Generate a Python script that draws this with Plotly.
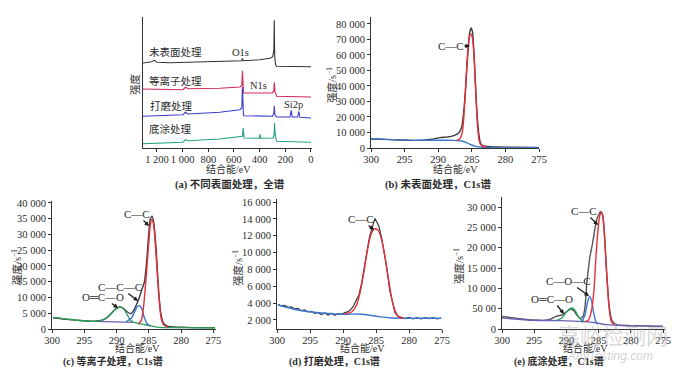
import plotly.graph_objects as go

# page body has an 8 px margin: draw on a 664x360 figure and shift all pixel positions by 8
OFF = 8
W, H = 664, 360

# ---------------- (a) survey spectra (arbitrary units) ----------------
a1_be = [1309, 1244, 1218, 1200, 1101, 971, 711, 554, 539, 534, 528, 398, 320, 299, 289, 286, 283, 276, 268, 0]
a1_int = [85.0, 86.3, 87.7, 85.7, 85.3, 85.7, 86.3, 87.3, 87.3, 89.7, 87.3, 88.3, 89.7, 91.0, 98.0, 127.7, 92.0, 83.3, 81.7, 81.3]
a2_be = [1309, 1205, 997, 979, 958, 711, 554, 539, 534, 526, 398, 299, 289, 286, 281, 268, 0]
a2_int = [59.0, 59.0, 58.3, 60.7, 59.3, 59.7, 61.0, 62.3, 77.3, 55.0, 54.7, 55.0, 58.3, 65.7, 56.7, 51.7, 51.0]
a3_be = [1309, 997, 979, 958, 711, 554, 539, 534, 526, 398, 299, 289, 286, 281, 268, 164, 154, 146, 104, 94, 86, 0]
a3_int = [31.7, 33.3, 35.7, 34.0, 35.7, 38.3, 40.0, 61.0, 32.3, 31.7, 31.7, 35.0, 42.3, 33.3, 31.0, 31.0, 37.7, 31.0, 31.0, 36.7, 30.7, 30.0]
a4_be = [1309, 997, 979, 958, 711, 554, 534, 528, 521, 403, 398, 393, 294, 286, 284, 279, 268, 0]
a4_int = [4.3, 5.7, 8.3, 7.3, 9.0, 11.7, 11.7, 20.0, 10.0, 9.7, 14.0, 9.7, 10.0, 15.0, 25.0, 13.3, 6.7, 5.7]
a_names = ["未表面处理", "等离子处理", "打磨处理", "底涂处理"]
a_xticks = [1200, 1000, 800, 600, 400, 200, 0]
a_xtext = ["1 200", "1 000", "800", "600", "400", "200", "0"]

# ---------------- (b) untreated C1s ----------------
b_raw_be = [300.0, 297.13, 293.68, 291.21, 289.72, 288.24, 287.25, 286.76, 286.46, 286.22, 285.97, 285.72,
            285.47, 285.28, 285.08, 284.88, 284.68, 284.44, 284.19, 283.94, 283.70, 283.30, 281.32, 275.0]
b_raw = [5806, 5376, 4946, 5591, 6667, 7312, 8817, 10753, 14408, 22580, 35483, 52687,
         67741, 75268, 77418, 74192, 61289, 39784, 20430, 8602, 3226, 1290, 645, 430]
b_cc_be = [287.25, 286.76, 286.41, 286.12, 285.87, 285.62, 285.38, 285.13, 284.88, 284.63, 284.39, 284.14, 283.89, 283.55, 282.81]
b_cc = [4946, 6021, 10107, 23655, 43010, 61289, 71612, 73547, 70321, 56988, 33333, 13978, 4301, 1505, 645]
b_bg_be = [300, 293.68, 287.75, 286.51, 285.77, 285.03, 284.29, 283.30, 275]
b_bg = [6021, 4946, 4946, 4516, 3441, 1935, 860, 430, 215]
b_yticks = [0, 10000, 20000, 30000, 40000, 50000, 60000, 70000, 80000]
b_ytext = ["0", "10 000", "20 000", "30 000", "40 000", "50 000", "60 000", "70 000", "80 000"]

# ---------------- (c) plasma C1s ----------------
c_raw_be = [299.84, 297.78, 295.19, 293.13, 291.83, 291.06, 290.28, 289.61, 288.99, 288.37, 287.80, 287.34, 286.93, 286.51,
            286.10, 285.68, 285.32, 285.01, 284.75, 284.50, 284.24, 283.88, 283.51, 283.15, 282.74, 282.02, 279.17, 274.78]
c_raw = [3579, 3053, 2632, 2526, 3158, 4421, 6105, 6947, 6631, 5474, 4842, 5895, 7684, 9789,
         12421, 15052, 21894, 30315, 35052, 35789, 33684, 25578, 12947, 5052, 1895, 842, 526, 421]
c_cc_be = [286.62, 286.16, 285.79, 285.37, 285.06, 284.81, 284.55, 284.29, 283.93, 283.51, 283.10, 282.69, 282.02]
c_cc = [1700, 2737, 7684, 17684, 26105, 32421, 34736, 33473, 25052, 11894, 3474, 1263, 632]
c_ccc_be = [288.48, 287.70, 287.18, 286.78, 286.42, 286.05, 285.68, 285.27, 284.86]
c_ccc = [2316, 3474, 5579, 7158, 7368, 6105, 3474, 1684, 1053]
c_oco_be = [299.84, 297.78, 295.19, 293.13, 292.61, 291.32, 290.54, 289.92, 289.25, 288.73, 288.22, 287.70, 287.18,
            286.42, 285.37, 284.34, 283.31, 281.24, 274.78]
c_oco = [3684, 3158, 2632, 2421, 2526, 3789, 5579, 6631, 6842, 5895, 4000, 2526, 2000, 1684, 1263, 842, 526, 421, 316]
c_base_be = [293.13, 287.44]
c_base = [2421, 2105]
c_yticks = [0, 5000, 10000, 15000, 20000, 25000, 30000, 35000, 40000]
c_ytext = ["0", "5 000", "10 000", "15 000", "20 000", "25 000", "30 000", "35 000", "40 000"]

# ---------------- (d) ground C1s ----------------
d_raw_be = [299.85, 299.34, 298.83, 298.33, 297.82, 297.32, 296.81, 296.30, 295.80, 295.29, 294.78, 294.28, 293.77,
            293.26, 292.76, 292.25, 291.74, 291.24, 290.73, 290.22, 289.72, 289.21, 288.80, 288.40, 287.99, 287.59,
            287.18, 286.78, 286.37, 285.97, 285.66, 285.41, 285.16, 284.90, 284.55, 284.14, 283.74, 283.33, 282.93,
            282.52, 282.12, 281.71, 281.21, 280.60, 279.99, 279.38, 278.77, 278.17, 277.56, 276.95, 276.34, 275.73, 275.13]
d_raw = [3864, 3666, 3745, 3507, 3547, 3309, 3388, 3110, 3190, 2952, 3031, 2793, 2873,
         2635, 2833, 2595, 2793, 2555, 2754, 2674, 2873, 2992, 3269, 3666, 4380, 4975,
         6363, 8028, 10130, 11915, 12787, 13501, 14057, 13660, 13105, 11717, 9932, 7949, 5569,
         3983, 2873, 2476, 2317, 2159, 2317, 2119, 2278, 2119, 2278, 2159, 2278, 2119, 2238]
d_cc_be = [289.72, 288.70, 287.94, 287.44, 286.93, 286.42, 285.92, 285.41, 285.06, 284.65, 284.14, 283.64, 283.13,
           282.62, 282.12, 281.61, 280.85]
d_cc = [2700, 2950, 3785, 5173, 7235, 9734, 11717, 12708, 12827, 12629, 11518, 9535, 6957, 4578, 3110, 2397, 2159]
d_bg_be = [299.85, 296.81, 292.76, 289.72, 287.69, 286.17, 284.65, 282.62, 280.09, 275.13]
d_bg = [3785, 3190, 2793, 2674, 2714, 2595, 2397, 2238, 2198, 2198]
d_yticks = [2000, 4000, 6000, 8000, 10000, 12000, 14000, 16000]
d_ytext = ["2 000", "4 000", "6 000", "8 000", "10 000", "12 000", "14 000", "16 000"]

# ---------------- (e) primer C1s ----------------
e_raw_be = [300.00, 297.68, 295.10, 293.56, 292.53, 291.60, 290.72, 289.95, 289.33, 288.81, 288.30, 287.78, 287.37,
            287.11, 286.86, 286.60, 286.34, 285.93, 285.52, 285.21, 284.90, 284.69, 284.38, 284.12, 283.76, 283.35,
            282.94, 282.47, 281.96, 279.12, 275.00]
e_raw = [3115, 2623, 2213, 2131, 2377, 3115, 3443, 4262, 4918, 4426, 3279, 2623, 3279,
         5574, 10902, 14590, 17869, 21148, 25247, 27296, 28362, 28900, 28150, 23900, 14000, 5500,
         2100, 1300, 984, 820, 656]
e_cc_be = [287.11, 286.60, 286.08, 285.72, 285.41, 285.10, 284.85, 284.64, 284.38, 284.12, 283.76, 283.40, 283.04, 282.63]
e_cc = [1800, 2131, 4754, 9672, 17869, 24427, 27706, 28690, 27870, 23607, 13771, 5574, 1885, 1066]
e_coc_be = [287.63, 287.11, 286.75, 286.44, 286.13, 285.82, 285.46, 285.05]
e_coc = [1639, 3525, 6394, 8033, 7213, 4344, 1885, 1148]
e_oco_be = [291.49, 290.72, 290.05, 289.54, 289.12, 288.66, 288.14, 287.63, 287.11]
e_oco = [2131, 2705, 4098, 4918, 5164, 4590, 3115, 2131, 1803]
e_base_be = [300, 295.10, 290.98, 287.37, 285.31, 283.76, 281.19, 275.0]
e_base = [2705, 2131, 2049, 1803, 1475, 1066, 820, 656]
e_yticks = [0, 5000, 10000, 15000, 20000, 25000, 30000]
e_ytext = ["0", "50 00", "10 000", "15 000", "20 000", "25 000", "30 000"]

c_ticks = [300, 295, 290, 285, 280, 275]

# ---------------- styling ----------------
FONT = "Liberation Serif, Noto Sans CJK SC, serif"
TXT = "#2b2b2b"
BLACK = "#3a3a3a"
RED = "#e2303c"
BLUE = "#3c78d0"
GREEN = "#2e9e5c"
PURPLE = "#6a60b4"


def PX(p):
    return (p - OFF) / W


def PY(p):
    return 1 - (p - OFF) / H


def xd(p0, p1):
    return [PX(p0), PX(p1)]


def yd(top, bottom):
    return [PY(bottom), PY(top)]


fig = go.Figure()


def add(x, y, color, ax, width=1.4, shape="spline"):
    fig.add_trace(go.Scatter(x=x, y=y, mode="lines", xaxis=ax[0], yaxis=ax[1],
                             line=dict(color=color, width=width, shape=shape, smoothing=0.6),
                             showlegend=False, hoverinfo="skip"))


# (a)
for be, it, col in [(a1_be, a1_int, "#333333"), (a2_be, a2_int, "#d42a55"),
                    (a3_be, a3_int, "#3d3dc8"), (a4_be, a4_int, "#1fa27e")]:
    add(be, it, col, ("x", "y"), width=1.1, shape="linear")
# (b)
add(b_raw_be, b_raw, BLACK, ("x2", "y2"))
add(b_bg_be, b_bg, BLUE, ("x2", "y2"))
add(b_cc_be, b_cc, RED, ("x2", "y2"))
# (c)
add(c_raw_be, c_raw, BLACK, ("x3", "y3"))
add(c_base_be, c_base, PURPLE, ("x3", "y3"), shape="linear")
add(c_oco_be, c_oco, GREEN, ("x3", "y3"))
add(c_ccc_be, c_ccc, BLUE, ("x3", "y3"))
add(c_cc_be, c_cc, RED, ("x3", "y3"))
# (d)
add(d_raw_be, d_raw, BLACK, ("x4", "y4"), width=1.2, shape="linear")
add(d_bg_be, d_bg, BLUE, ("x4", "y4"))
add(d_cc_be, d_cc, RED, ("x4", "y4"))
# (e)
add(e_raw_be, e_raw, "#555555", ("x5", "y5"))
add(e_base_be, e_base, PURPLE, ("x5", "y5"))
add(e_oco_be, e_oco, GREEN, ("x5", "y5"))
add(e_coc_be, e_coc, BLUE, ("x5", "y5"))
add(e_cc_be, e_cc, RED, ("x5", "y5"))

common = dict(showline=True, linecolor="#333", linewidth=1, mirror=False, showgrid=False, zeroline=False,
              ticks="outside", ticklen=3, tickcolor="#333", automargin=False,
              tickfont=dict(family=FONT, size=10.5, color=TXT))
xcommon = dict(common, ticklabelstandoff=-2)

lay = dict(width=W, height=H, margin=dict(l=0, r=0, t=0, b=0, autoexpand=False),
           paper_bgcolor="white", plot_bgcolor="white", showlegend=False)

lay["xaxis"] = dict(xcommon, domain=xd(143, 312), range=[1309, -8], anchor="y",
                    tickvals=a_xticks, ticktext=a_xtext)
lay["yaxis"] = dict(common, domain=yd(17, 148), range=[0, 131], anchor="x",
                    showticklabels=False, ticks="")
lay["xaxis2"] = dict(xcommon, domain=xd(371, 539), range=[300, 275], anchor="y2",
                     tickvals=c_ticks)
lay["yaxis2"] = dict(common, domain=yd(17, 148), range=[0, 84500], anchor="x2",
                     tickvals=b_yticks, ticktext=b_ytext)
lay["xaxis3"] = dict(xcommon, domain=xd(52, 216), range=[300, 274.6], anchor="y3", tickvals=c_ticks)
lay["yaxis3"] = dict(common, domain=yd(201, 329), range=[0, 40600], anchor="x3",
                     tickvals=c_yticks, ticktext=c_ytext)
lay["xaxis4"] = dict(xcommon, domain=xd(277, 442), range=[300, 275], anchor="y4", tickvals=c_ticks)
lay["yaxis4"] = dict(common, domain=yd(199, 329), range=[930, 16360], anchor="x4",
                     tickvals=d_yticks, ticktext=d_ytext)
lay["xaxis5"] = dict(xcommon, domain=xd(502, 665), range=[300, 274.7], anchor="y5", tickvals=c_ticks)
lay["yaxis5"] = dict(common, domain=yd(197, 329), range=[0, 32460], anchor="x5",
                     tickvals=e_yticks, ticktext=e_ytext)
fig.update_layout(**lay)

ann = []


def txt(px, py, s, size=10.5, bold=False, angle=0, color=TXT, xanchor="center", fam=FONT):
    ann.append(dict(x=PX(px), y=PY(py), xref="paper", yref="paper", text=("<b>%s</b>" % s) if bold else s,
                    showarrow=False, xanchor=xanchor, yanchor="middle", textangle=angle,
                    font=dict(family=fam, size=size, color=color)))


def label_arrow(tx, ty, s, hx, hy, size=11):
    # text centred at (tx, ty); arrow from the text to the head at (hx, hy)
    ann.append(dict(x=PX(hx), y=PY(hy), xref="paper", yref="paper", text=s, showarrow=True,
                    ax=tx - hx, ay=ty - hy, arrowhead=2, arrowsize=0.7, arrowwidth=1.3,
                    arrowcolor="#1a1a1a", standoff=0, startstandoff=0, borderpad=0,
                    font=dict(family=FONT, size=size, color=TXT)))


# watermark (light)
txt(613, 334, "嘉峪检测网", size=22, color="rgba(170,170,170,0.45)", fam="Noto Sans CJK SC")
txt(610, 356, "<i>AnyTesting.com</i>", size=12, color="rgba(170,170,170,0.55)", fam="Liberation Sans")

# (a) labels
txt(147, 52, a_names[0], xanchor="left")
txt(147, 81, a_names[1], xanchor="left")
txt(148, 106, a_names[2], xanchor="left")
txt(147, 129, a_names[3], xanchor="left")
txt(240, 52, "O1s")
txt(258, 85, "N1s")
txt(293, 105, "Si2p")
txt(135, 84, "强度", angle=-90)
txt(229, 169, "结合能/eV", size=10)
txt(230, 184, "(a) 不同表面处理，全谱", bold=True)

# (b)
txt(331, 85, "强度/s<sup>−1</sup>", angle=-90)
txt(455, 169, "结合能/eV", size=10)
txt(438, 184, "(b) 未表面处理，C1s谱", bold=True)
label_arrow(451, 46, "C—C", 470, 46)

# (c)
txt(16, 267, "强度/s<sup>−1</sup>", angle=-90)
txt(137, 348, "结合能/eV", size=10)
txt(113, 361, "(c) 等离子处理，C1s谱", bold=True, size=10)
label_arrow(137, 214, "C—C", 149, 226)
label_arrow(120, 287, "C—C—C", 138, 301)
label_arrow(103, 297, "O═C—O", 118, 308)

# (d)
txt(237, 268, "强度/s<sup>−1</sup>", angle=-90)
txt(362, 348, "结合能/eV", size=10)
txt(334, 361, "(d) 打磨处理，C1s谱", bold=True, size=10)
label_arrow(361, 219, "C—C", 374, 230)

# (e)
txt(458, 266, "强度/s<sup>−1</sup>", angle=-90)
txt(585, 348, "结合能/eV", size=10)
txt(559, 361, "(e) 底涂处理，C1s谱", bold=True, size=10)
label_arrow(584, 211, "C—C", 598, 225)
label_arrow(568, 281, "C—O—C", 589, 296)
label_arrow(552, 299, "O═C—O", 564, 314)

fig.update_layout(annotations=ann)
fig.write_html("out.html")
